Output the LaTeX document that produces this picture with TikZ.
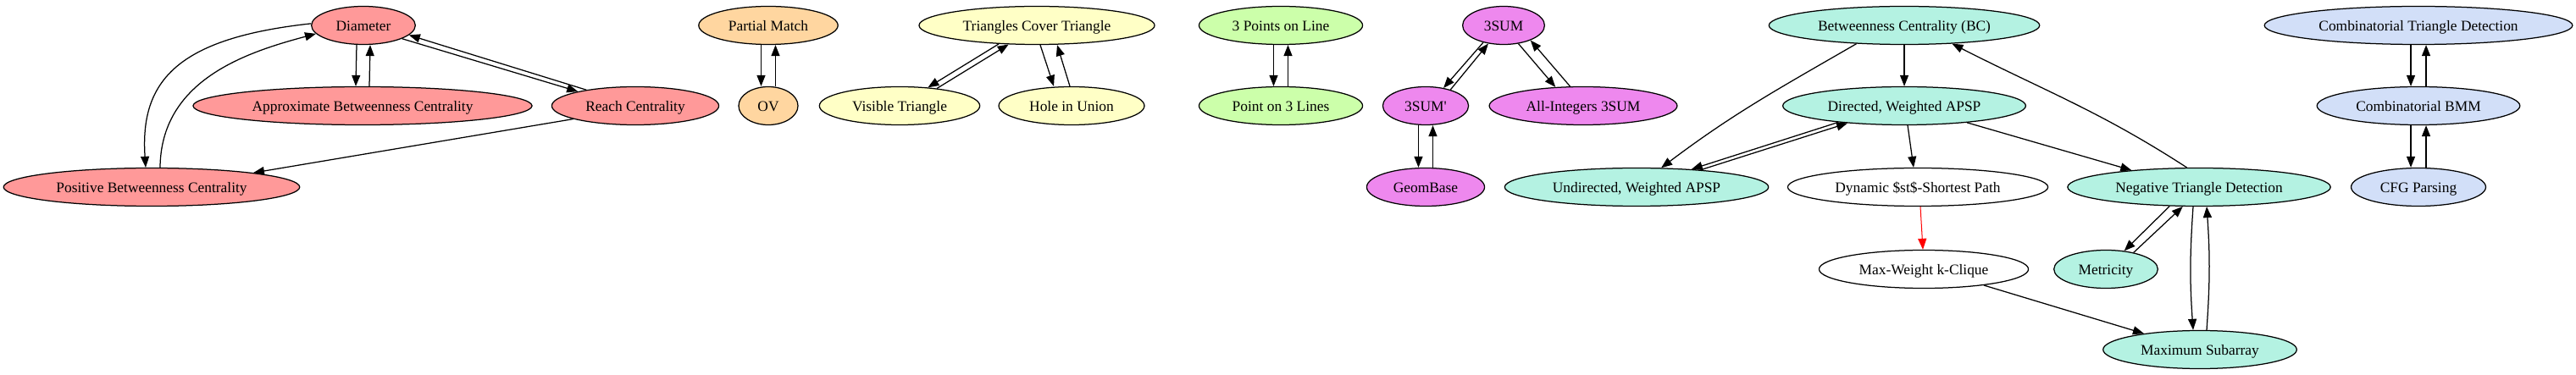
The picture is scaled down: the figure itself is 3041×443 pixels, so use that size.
\documentclass[tikz,border=0pt]{standalone}
\usepackage{fontspec}
\setmainfont{Liberation Serif}
\usetikzlibrary{arrows.meta,shapes.geometric}
\definecolor{cred}{HTML}{FF9999}
\definecolor{corange}{HTML}{FFD6A0}
\definecolor{cyellow}{HTML}{FFFFC6}
\definecolor{cgreen}{HTML}{CCFFAA}
\definecolor{cviolet}{HTML}{EE88EE}
\definecolor{cteal}{HTML}{B4F2E2}
\definecolor{cblue}{HTML}{D2DFF8}
\begin{document}
\begin{tikzpicture}[x=1pt,y=1pt,
  nd/.style={ellipse, draw=black, line width=1.25pt, inner xsep=11pt, inner ysep=2pt,
    minimum height=45pt, minimum width=70pt, text height=14pt, text depth=1pt,
    font=\fontsize{17.4}{20}\selectfont},
  arr/.style={line width=1.25pt, -{Triangle[length=13pt,width=10pt]}},
]
\useasboundingbox (0,0) rectangle (3041,-443);
% nodes
\node[nd,fill=cred] (D) at (429,-30) {Diameter};
\node[nd,fill=cred] (ABC) at (428,-125) {Approximate Betweenness Centrality};
\node[nd,fill=cred] (RC) at (750,-125) {Reach Centrality};
\node[nd,fill=cred] (PBC) at (179,-221) {Positive Betweenness Centrality};
\node[nd,fill=corange] (PM) at (907,-30) {Partial Match};
\node[nd,fill=corange] (OV) at (907,-125) {OV};
\node[nd,fill=cyellow] (TCT) at (1224,-30) {Triangles Cover Triangle};
\node[nd,fill=cyellow] (VT) at (1062,-125) {Visible Triangle};
\node[nd,fill=cyellow] (HU) at (1265,-125) {Hole in Union};
\node[nd,fill=cgreen] (TPL) at (1512,-30) {3 Points on Line};
\node[nd,fill=cgreen] (PTL) at (1512,-125) {Point on 3 Lines};
\node[nd,fill=cviolet] (S) at (1775,-30) {3SUM};
\node[nd,fill=cviolet] (Sp) at (1683,-125) {3SUM\textquotesingle};
\node[nd,fill=cviolet] (AI) at (1869,-125) {All-Integers 3SUM};
\node[nd,fill=cviolet] (GB) at (1683,-221) {GeomBase};
\node[nd,fill=cteal] (UW) at (1932,-221) {Undirected, Weighted APSP};
\node[nd,fill=cteal] (BC) at (2248,-30) {Betweenness Centrality (BC)};
\node[nd,fill=cteal] (DW) at (2248,-125) {Directed, Weighted APSP};
\node[nd,fill=white] (DY) at (2264,-221) {Dynamic \$st\$-Shortest Path};
\node[nd,fill=cteal] (NT) at (2596,-221) {Negative Triangle Detection};
\node[nd,fill=white] (MW) at (2271,-318) {Max-Weight k-Clique};
\node[nd,fill=cteal] (MT) at (2486,-318) {Metricity};
\node[nd,fill=cteal] (MS) at (2597,-413) {Maximum Subarray};
\node[nd,fill=cblue] (CT) at (2855,-30) {Combinatorial Triangle Detection};
\node[nd,fill=cblue] (CB) at (2855,-125) {Combinatorial BMM};
\node[nd,fill=cblue] (CF) at (2855,-221) {CFG Parsing};
% edges: red group
\draw[arr] ([xshift=-8pt]D.south) -- ([xshift=-8pt]ABC.north);
\draw[arr] ([xshift=8pt]ABC.north) -- ([xshift=8pt]D.south);
\draw[arr] (D.-19) -- (RC.166);
\draw[arr] (RC.162) -- (D.-12);
\draw[arr] (RC.192) -- (PBC.8);
\draw[arr] (D.178) .. controls (210,-45) and (165,-95) .. ([xshift=-7pt]PBC.north);
\draw[arr] ([xshift=10pt]PBC.north) .. controls (190,-95) and (290,-62) .. (D.190);
% orange
\draw[arr] ([xshift=-8.5pt]PM.south) -- ([xshift=-8.5pt]OV.north);
\draw[arr] ([xshift=8.5pt]OV.north) -- ([xshift=8.5pt]PM.south);
% yellow
\draw[arr] (TCT.206) -- (VT.33);
\draw[arr] (VT.25) -- (TCT.214);
\draw[arr] ([xshift=4pt]TCT.south) -- ([xshift=-21pt]HU.north);
\draw[arr] ([xshift=-2pt]HU.north) -- ([xshift=24pt]TCT.south);
% green
\draw[arr] ([xshift=-8.5pt]TPL.south) -- ([xshift=-8.5pt]PTL.north);
\draw[arr] ([xshift=8.5pt]PTL.north) -- ([xshift=8.5pt]TPL.south);
% violet
\draw[arr] (S.220) -- (Sp.45);
\draw[arr] (Sp.33) -- (S.230);
\draw[arr] (S.-51) -- (AI.146);
\draw[arr] (AI.124) -- (S.-29);
\draw[arr] ([xshift=-8.5pt]Sp.south) -- ([xshift=-8.5pt]GB.north);
\draw[arr] ([xshift=8.5pt]GB.north) -- ([xshift=8.5pt]Sp.south);
% teal
\draw[arr] (BC.201) to[out=210,in=37] (UW.38);
\draw[arr] (BC.south) -- (DW.north);
\draw[arr] (NT.122) to[out=147,in=-27] (BC.-21);
\draw[arr] (DW.194) -- (UW.18);
\draw[arr] (UW.15) -- (DW.197);
\draw[arr] ([xshift=4pt]DW.south) -- ([xshift=-5pt]DY.north);
\draw[arr] (DW.-15) -- (NT.166);
\draw[arr,red,line width=1pt] ([xshift=3pt]DY.south) -- ([xshift=-1pt]MW.north);
\draw[arr] (NT.213) -- (MT.45);
\draw[arr] (MT.31) -- (NT.230);
\draw[arr] ([xshift=-7pt]NT.south) to[bend right=4] ([xshift=-8pt]MS.north);
\draw[arr] ([xshift=8pt]MS.north) to[bend right=4] ([xshift=9pt]NT.south);
\draw[arr] (MW.-15) -- (MS.164);
% blue
\draw[arr] ([xshift=-9pt]CT.south) -- ([xshift=-9pt]CB.north);
\draw[arr] ([xshift=9pt]CB.north) -- ([xshift=9pt]CT.south);
\draw[arr] ([xshift=-9pt]CB.south) -- ([xshift=-9pt]CF.north);
\draw[arr] ([xshift=9pt]CF.north) -- ([xshift=9pt]CB.south);
\end{tikzpicture}
\end{document}
